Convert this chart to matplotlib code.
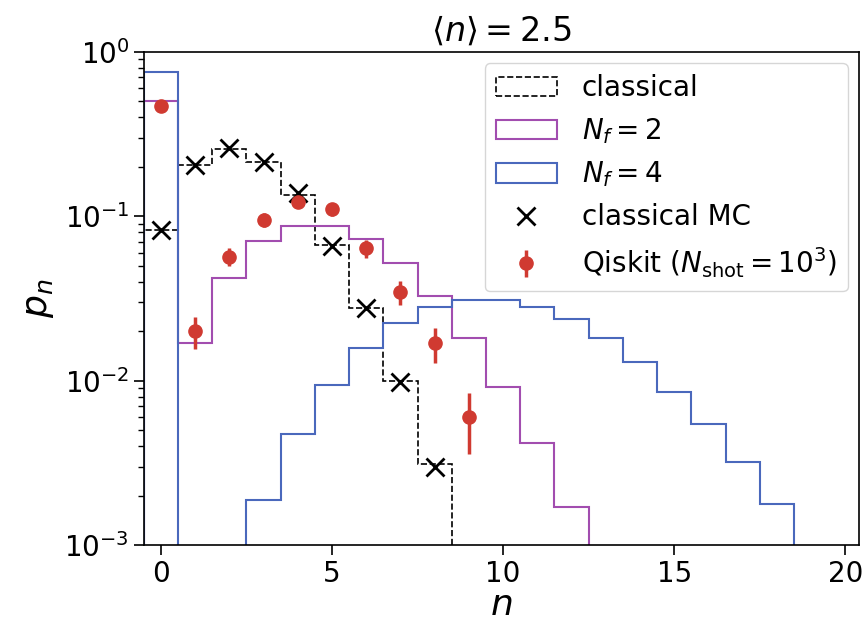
import matplotlib as mpl
mpl.use('Agg')
import matplotlib.pyplot as plt
import numpy as np

# photon-number bins
n_classical = list(range(0, 9))
p_classical = [0.082, 0.205, 0.257, 0.214, 0.134, 0.0668, 0.0278, 0.0099, 0.0031]

n_nf2 = list(range(0, 13))
p_nf2 = [0.503, 0.0169, 0.042, 0.0707, 0.0873, 0.0873, 0.0728, 0.0518,
         0.0329, 0.0181, 0.0091, 0.00415, 0.00171]

n_nf4 = list(range(0, 19))
p_nf4 = [0.752, 0.0, 0.0, 0.00189, 0.00475, 0.0094, 0.0157, 0.0225, 0.0279,
         0.0309, 0.0309, 0.0282, 0.0236, 0.0181, 0.0129, 0.00857, 0.00542,
         0.00318, 0.00177]

n_mc = list(range(0, 9))
p_mc = [0.082, 0.205, 0.26, 0.215, 0.139, 0.066, 0.0275, 0.0098, 0.0030]

n_qiskit = list(range(0, 10))
p_qiskit = [0.469, 0.020, 0.0568, 0.095, 0.1227, 0.110, 0.0638, 0.0348, 0.0169, 0.0060]
err_qiskit = [0.0158, 0.0044, 0.0073, 0.0093, 0.0104, 0.0099, 0.0077, 0.0058, 0.0041, 0.0024]

purple = "#A24DAF"
blue = "#4A68BC"
red = "#D03A31"

fig = plt.figure(figsize=(8.66, 6.25), dpi=100)
ax = fig.add_axes([0.166, 0.128, 0.826, 0.789])

def edges(n):
  return np.arange(len(n) + 1) - 0.5

ax.hist(n_classical, bins=edges(n_classical), weights=p_classical, histtype='step',
        color='black', linestyle='--', linewidth=1.2, label='classical')
ax.hist(n_nf2, bins=edges(n_nf2), weights=p_nf2, histtype='step',
        color=purple, linewidth=1.5, label=r'$N_f=2$')
ax.hist(n_nf4, bins=edges(n_nf4), weights=p_nf4, histtype='step',
        color=blue, linewidth=1.5, label=r'$N_f=4$')
ax.plot(n_mc, p_mc, 'x', color='black', markersize=13, markeredgewidth=2,
        label='classical MC')
ax.errorbar(n_qiskit, p_qiskit, yerr=err_qiskit, fmt='o', color=red,
            markersize=9.5, elinewidth=2.5, capsize=0,
            label=r'Qiskit ($N_{\rm shot}=10^3$)')

ax.set_yscale('log')
ax.set_ylim(1e-3, 1)
ax.set_xlim(-0.5, 20.4)
ax.set_xticks([0, 5, 10, 15, 20])

ax.tick_params(axis='both', which='major', labelsize=20, length=7, width=1.2)
ax.tick_params(axis='y', which='minor', length=4, width=1.0)
for s in ax.spines.values():
  s.set_linewidth(1.2)

ax.set_xlabel(r'$n$', fontsize=26, labelpad=0)
ax.set_ylabel(r'$p_n$', fontsize=26, labelpad=6)
ax.set_title(r'$\langle n \rangle = 2.5$', fontsize=24, pad=8)

ax.legend(loc='upper right', fontsize=20, handlelength=2.2, borderaxespad=0.4,
          handletextpad=0.9)

plt.savefig('out.png', dpi=100)
plt.close()
